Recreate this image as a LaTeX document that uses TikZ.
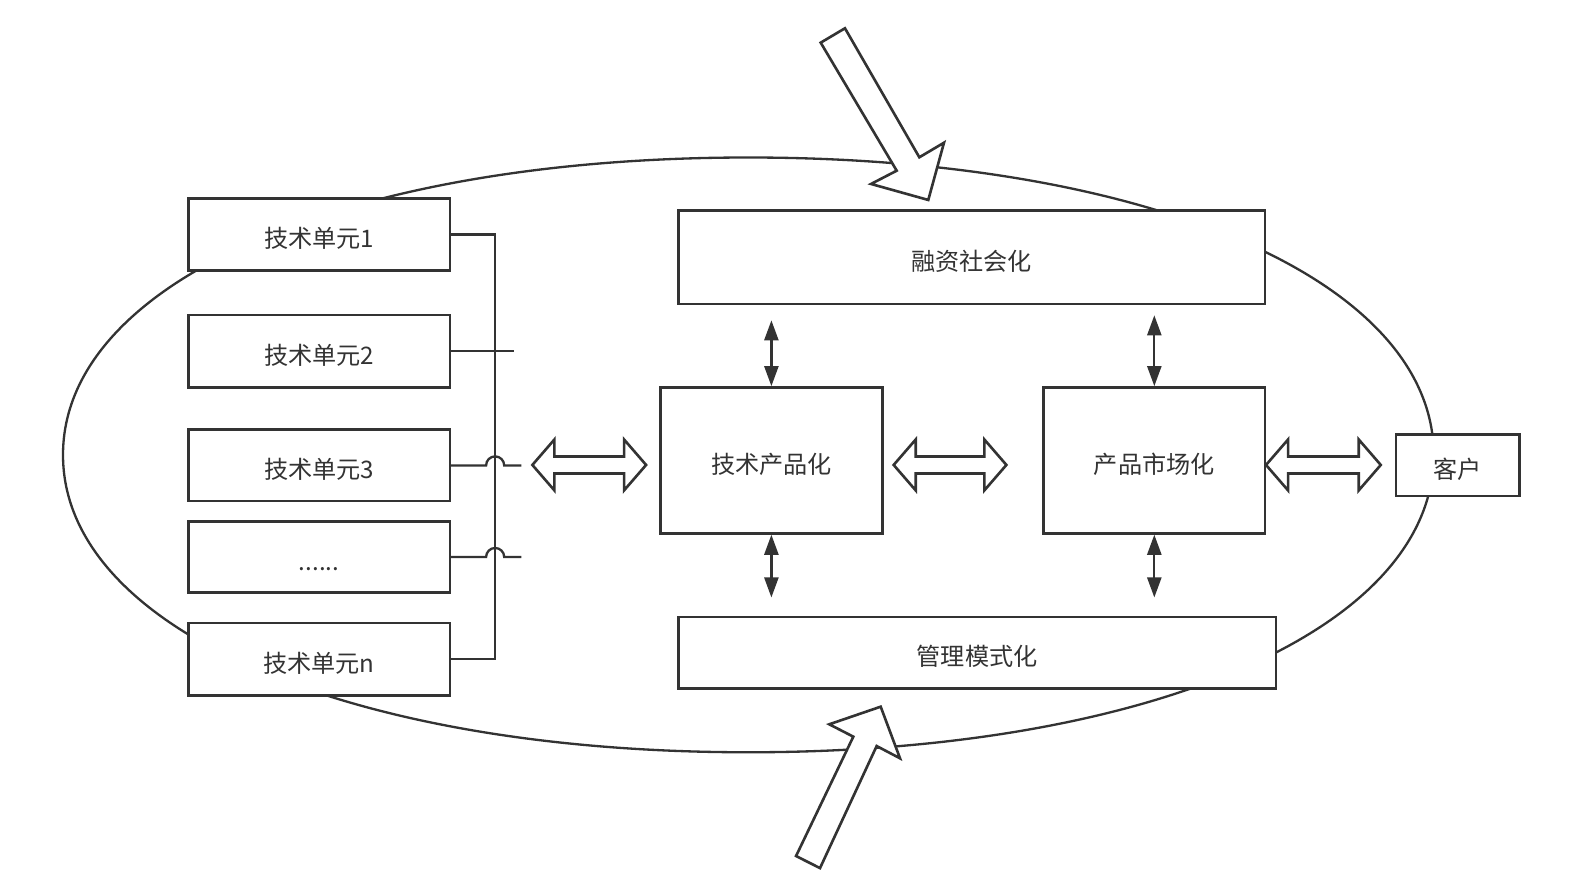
\documentclass[tikz,border=0pt]{standalone}
\usepackage{fontspec}
\setmainfont{Noto Sans CJK SC}
\usetikzlibrary{arrows.meta,calc}
\definecolor{ink}{HTML}{333333}
\begin{document}
\begin{tikzpicture}[x=1pt,y=-1pt,
  box/.style={draw=ink, line width=2.6pt, fill=white, text=ink, inner sep=0pt,
    font=\fontsize{24}{29}\selectfont, text height=26pt, text depth=0pt},
  wire/.style={draw=ink, line width=2.3pt},
  sarrow/.style={draw=ink, line width=2.3pt, {Triangle[length=20pt,width=14pt]}-{Triangle[length=20pt,width=14pt]}},
  bigarrow/.style={draw=ink, line width=2.6pt, fill=white, line join=miter}
]
\useasboundingbox (0,0) rectangle (1568,888);
\fill[white] (0,0) rectangle (1568,888);

% outer oval
\draw[ink, line width=2.3pt] (1424.6,452)
  .. controls (1424.6,279.1) and (1142.0,156.5) .. (743.6,156.5)
  .. controls (345.2,156.5) and (62.6,279.1) .. (62.6,452)
  .. controls (62.6,624.9) and (345.2,747.5) .. (743.6,747.5)
  .. controls (1142.0,747.5) and (1424.6,624.9) .. cycle;

% left column
\node[box, minimum width=260pt, minimum height=72pt] (u1) at (317,233) {技术单元1};
\node[box, minimum width=260pt, minimum height=72pt] (u2) at (317,349) {技术单元2};
\node[box, minimum width=260pt, minimum height=71pt] (u3) at (317,462.5) {技术单元3};
\node[box, minimum width=260pt, minimum height=71pt] (u4) at (317,553.5) {......};
\node[box, minimum width=260pt, minimum height=72pt] (u5) at (317,655) {技术单元n};

% main boxes
\node[box, minimum width=583pt, minimum height=93pt] (rz) at (965.5,255.5) {融资社会化};
\node[box, minimum width=221pt, minimum height=145pt] (jc) at (766.5,457.5) {技术产品化};
\node[box, minimum width=220pt, minimum height=145pt] (cs) at (1147,457.5) {产品市场化};
\node[box, minimum width=594pt, minimum height=71pt] (gl) at (971,648.5) {管理模式化};
\node[box, minimum width=123pt, minimum height=61pt] (kh) at (1448.5,462.5) {客户};

% bus wiring
\coordinate (bx) at (492,0);
\draw[wire] (u1.east) -- (u1.east -| bx) -- (u5.east -| bx) -- (u5.east);
\coordinate (e2) at (511,349);
\draw[wire] (u2.east) -- (e2);
\coordinate (e3) at (518,462.5);
\draw[wire] (u3.east) -- ($(u3.east -| bx)+(-9,0)$) arc (180:360:9) -- (e3);
\coordinate (e4) at (518,553.5);
\draw[wire] (u4.east) -- ($(u4.east -| bx)+(-9,0)$) arc (180:360:9) -- (e4);

% small double arrows
\draw[sarrow, shorten <=15pt] (jc.north |- rz.south) -- (jc.north);
\draw[sarrow, shorten <=10pt] (cs.north |- rz.south) -- (cs.north);
\draw[sarrow, shorten >=18pt] (jc.south) -- (jc.south |- gl.north);
\draw[sarrow, shorten >=18pt] (cs.south) -- (cs.south |- gl.north);

% block double arrows
\coordinate (da1) at (585.5,462);
\coordinate (da2) at (944,462);
\coordinate (da3) at (1315,462);
\foreach \c/\L in {da1/56.5, da2/56, da3/57}{
  \draw[bigarrow, shift={(\c)}]
    (-\L,0) -- (-\L+21.9,-25.3) -- (-\L+21.9,-8.45) -- (\L-21.9,-8.45) -- (\L-21.9,-25.3)
    -- (\L,0) -- (\L-21.9,25.3) -- (\L-21.9,8.45) -- (-\L+21.9,8.45) -- (-\L+21.9,25.3) -- cycle;
}

% big oblique arrows
\draw[bigarrow] (815.5,42.4) -- (839.6,28.1) -- (913.5,156.3) -- (938,141.8) -- (922.4,198.7) -- (865.5,182.8) -- (891,169.6) -- cycle;
\draw[bigarrow] (791,850.6) -- (847.9,732) -- (824,719.7) -- (875.1,702.2) -- (894.3,753.5) -- (871.1,741.3) -- (814.8,862.6) -- cycle;
\end{tikzpicture}
\end{document}
